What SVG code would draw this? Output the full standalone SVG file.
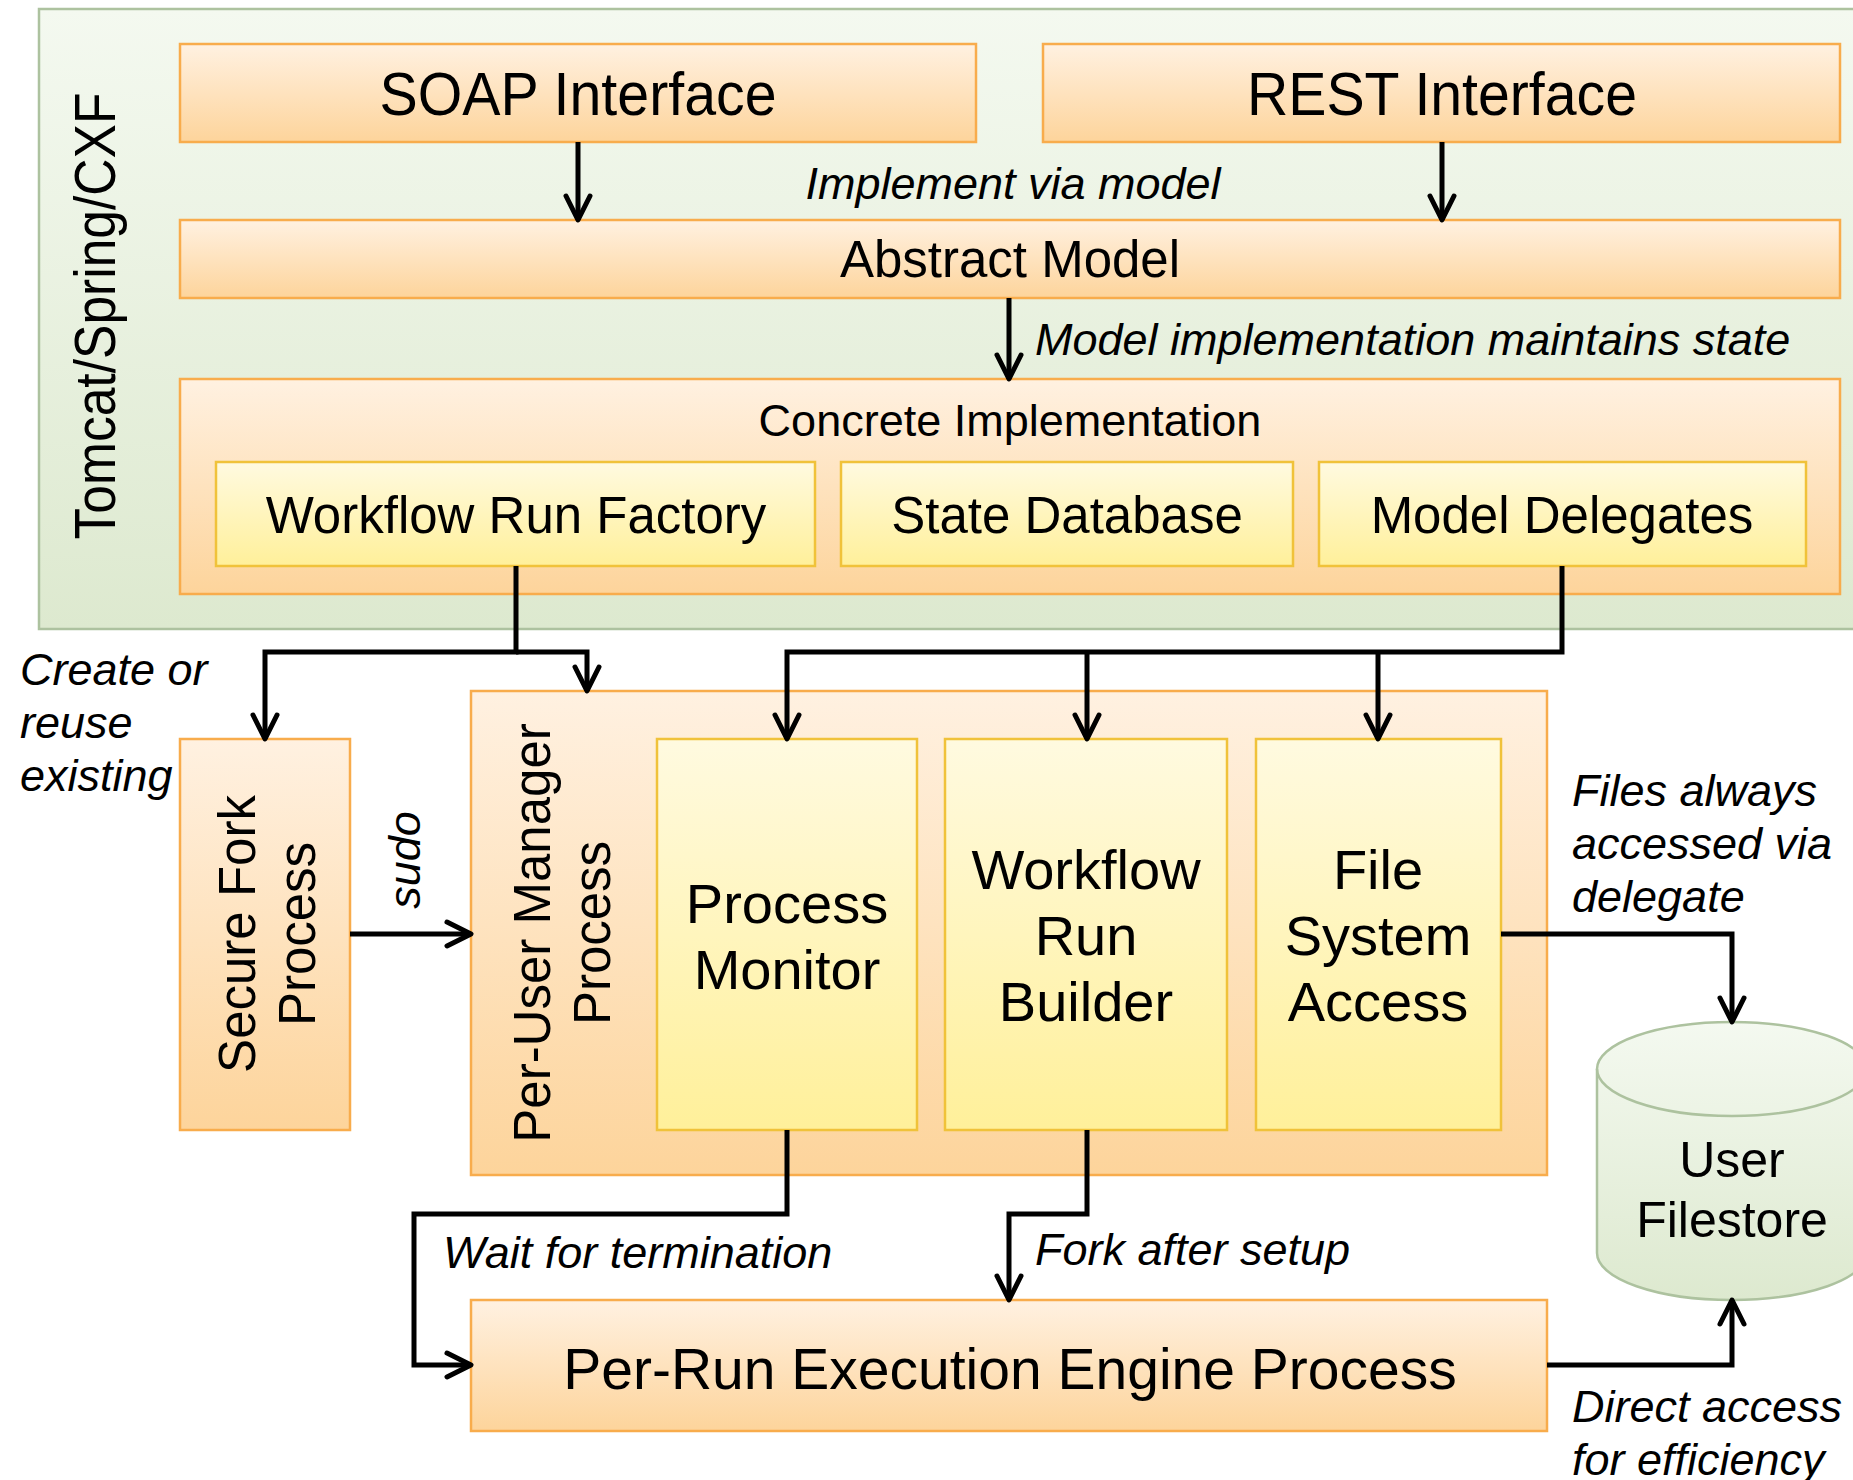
<svg xmlns="http://www.w3.org/2000/svg" width="1853" height="1480" viewBox="0 0 1853 1480">
  <defs>
    <linearGradient id="gGreen" x1="0" y1="0" x2="0" y2="1">
      <stop offset="0" stop-color="#f4f9f0"/>
      <stop offset="1" stop-color="#dde9cf"/>
    </linearGradient>
    <linearGradient id="gOrange" x1="0" y1="0" x2="0" y2="1">
      <stop offset="0" stop-color="#fff1e1"/>
      <stop offset="1" stop-color="#fdd49b"/>
    </linearGradient>
    <linearGradient id="gYellow" x1="0" y1="0" x2="0" y2="1">
      <stop offset="0" stop-color="#fffae0"/>
      <stop offset="1" stop-color="#fff09a"/>
    </linearGradient>
    <marker id="ah" markerUnits="userSpaceOnUse" viewBox="-30 -20 40 40" markerWidth="40" markerHeight="40" refX="0" refY="0" orient="auto" overflow="visible">
      <path d="M-24,-12 L0,0 L-24,12" fill="none" stroke="#000" stroke-width="5" stroke-linecap="round" stroke-linejoin="round"/>
    </marker>
  </defs>
  <style>
    .lbl { font-family: "Liberation Sans", Arial, sans-serif; fill: #000; }
    .note { font-family: "Liberation Sans", Arial, sans-serif; font-style: italic; font-size: 45px; fill: #000; }
    .orange { fill: url(#gOrange); stroke: #f8ac4c; stroke-width: 2.5; }
    .yellow { fill: url(#gYellow); stroke: #f0c23a; stroke-width: 2.5; }
    .green { fill: url(#gGreen); stroke: #adc29f; stroke-width: 2.5; }
    .conn { fill: none; stroke: #000; stroke-width: 5; stroke-linejoin: miter; }
    .arr { marker-end: url(#ah); }
  </style>

  <rect width="1853" height="1480" fill="#fff"/>

  <!-- server container -->
  <g id="container">
    <rect class="green" x="39" y="9" width="1840" height="620"/>
    <text class="lbl" font-size="57" text-anchor="middle" textLength="447" lengthAdjust="spacingAndGlyphs" transform="translate(115,316) rotate(-90)">Tomcat/Spring/CXF</text>
  </g>

  <g id="soap">
    <rect class="orange" x="180" y="44" width="796" height="98"/>
    <text class="lbl" x="578" y="115" font-size="62" text-anchor="middle" textLength="397" lengthAdjust="spacingAndGlyphs">SOAP Interface</text>
  </g>
  <g id="rest">
    <rect class="orange" x="1043" y="44" width="797" height="98"/>
    <text class="lbl" x="1442" y="115" font-size="62" text-anchor="middle" textLength="390" lengthAdjust="spacingAndGlyphs">REST Interface</text>
  </g>
  <g id="abstract">
    <rect class="orange" x="180" y="220" width="1660" height="78"/>
    <text class="lbl" x="1010" y="277" font-size="51" text-anchor="middle">Abstract Model</text>
  </g>
  <g id="concrete">
    <rect class="orange" x="180" y="379" width="1660" height="215"/>
    <text class="lbl" x="1010" y="436" font-size="45" text-anchor="middle">Concrete Implementation</text>
  </g>
  <g id="factory">
    <rect class="yellow" x="216" y="462" width="599" height="104"/>
    <text class="lbl" x="516" y="533" font-size="51" text-anchor="middle">Workflow Run Factory</text>
  </g>
  <g id="statedb">
    <rect class="yellow" x="841" y="462" width="452" height="104"/>
    <text class="lbl" x="1067" y="533" font-size="51" text-anchor="middle">State Database</text>
  </g>
  <g id="delegates">
    <rect class="yellow" x="1319" y="462" width="487" height="104"/>
    <text class="lbl" x="1562" y="533" font-size="51" text-anchor="middle">Model Delegates</text>
  </g>

  <g id="securefork">
    <rect class="orange" x="180" y="739" width="170" height="391"/>
    <text class="lbl" font-size="51" text-anchor="middle" transform="translate(255,934) rotate(-90)">Secure Fork</text>
    <text class="lbl" font-size="51" text-anchor="middle" transform="translate(315,934) rotate(-90)">Process</text>
  </g>
  <g id="manager">
    <rect class="orange" x="471" y="691" width="1076" height="484"/>
    <text class="lbl" font-size="51" text-anchor="middle" transform="translate(550,933) rotate(-90)">Per-User Manager</text>
    <text class="lbl" font-size="51" text-anchor="middle" transform="translate(610,933) rotate(-90)">Process</text>
  </g>
  <g id="monitor">
    <rect class="yellow" x="657" y="739" width="260" height="391"/>
    <text class="lbl" x="787" y="923" font-size="56" text-anchor="middle">Process</text>
    <text class="lbl" x="787" y="989" font-size="56" text-anchor="middle">Monitor</text>
  </g>
  <g id="builder">
    <rect class="yellow" x="945" y="739" width="282" height="391"/>
    <text class="lbl" x="1086" y="889" font-size="56" text-anchor="middle">Workflow</text>
    <text class="lbl" x="1086" y="955" font-size="56" text-anchor="middle">Run</text>
    <text class="lbl" x="1086" y="1021" font-size="56" text-anchor="middle">Builder</text>
  </g>
  <g id="fsaccess">
    <rect class="yellow" x="1256" y="739" width="245" height="391"/>
    <text class="lbl" x="1378" y="889" font-size="56" text-anchor="middle">File</text>
    <text class="lbl" x="1378" y="955" font-size="56" text-anchor="middle">System</text>
    <text class="lbl" x="1378" y="1021" font-size="56" text-anchor="middle">Access</text>
  </g>
  <g id="engine">
    <rect class="orange" x="471" y="1300" width="1076" height="131"/>
    <text class="lbl" x="1010" y="1389" font-size="57" text-anchor="middle">Per-Run Execution Engine Process</text>
  </g>
  <g id="filestore">
    <path class="green" d="M1597,1069 L1597,1253 A135,47 0 0 0 1867,1253 L1867,1069 A135,47 0 0 0 1597,1069 Z"/>
    <path d="M1597,1069 A135,47 0 0 0 1867,1069" fill="none" stroke="#adc29f" stroke-width="2.5"/>
    <text class="lbl" x="1732" y="1177" font-size="50" text-anchor="middle">User</text>
    <text class="lbl" x="1732" y="1237" font-size="50" text-anchor="middle">Filestore</text>
  </g>

  <!-- connectors -->
  <g id="connectors">
    <path class="conn arr" d="M578,142 V220"/>
    <path class="conn arr" d="M1442,142 V220"/>
    <path class="conn arr" d="M1009,298 V379"/>
    <path class="conn arr" d="M516,566 V652 H265 V739"/>
    <path class="conn arr" d="M516,652 H587 V691"/>
    <path class="conn arr" d="M1562,566 V652 H787 V739"/>
    <path class="conn arr" d="M1087,652 V739"/>
    <path class="conn arr" d="M1378,652 V739"/>
    <path class="conn arr" d="M350,934 H471"/>
    <path class="conn arr" d="M1501,934 H1732 V1022"/>
    <path class="conn arr" d="M1547,1365 H1732 V1300"/>
    <path class="conn arr" d="M787,1130 V1214 H414 V1365 H471"/>
    <path class="conn arr" d="M1087,1130 V1214 H1009 V1300"/>
  </g>

  <!-- connector labels -->
  <g id="labels">
    <text class="note" x="1013" y="199" text-anchor="middle">Implement via model</text>
    <text class="note" x="1035" y="355">Model implementation maintains state</text>
    <text class="note" x="20" y="685">Create or</text>
    <text class="note" x="20" y="738">reuse</text>
    <text class="note" x="20" y="791">existing</text>
    <text class="note" text-anchor="middle" transform="translate(420,860) rotate(-90)">sudo</text>
    <text class="note" x="1572" y="806">Files always</text>
    <text class="note" x="1572" y="859">accessed via</text>
    <text class="note" x="1572" y="912">delegate</text>
    <text class="note" x="443" y="1268">Wait for termination</text>
    <text class="note" x="1035" y="1265">Fork after setup</text>
    <text class="note" x="1572" y="1422">Direct access</text>
    <text class="note" x="1572" y="1475">for efficiency</text>
  </g>
</svg>
